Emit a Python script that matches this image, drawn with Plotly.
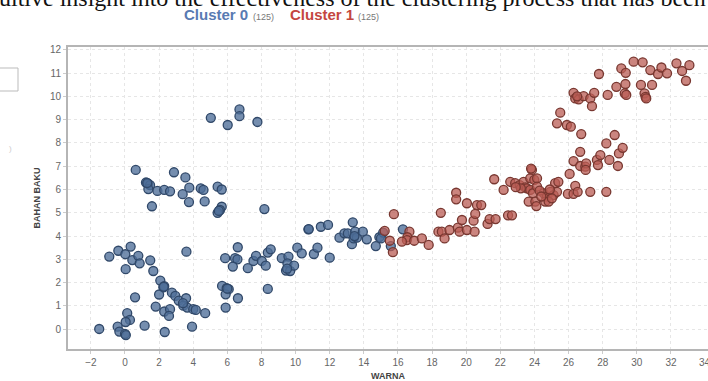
import plotly.graph_objects as go

# ---- data ----
cluster0_x = [0.63, 2.87, 3.54, 1.23, 1.35, 1.47, 1.37, 1.9, 2.3, 2.64, 3.38, 3.77, 4.44, 4.6, 3.75, 4.67, 1.58,
              0.33, -0.39, -0.92, 0.02, 0.43, 0.78, 0.86, 1.48, 3.6, 0.04, 1.66, 2.07, 2.25, 2.3, 2.0, 2.75, 2.95,
              3.15, 3.58, 3.42, 3.65, 4.0, 4.15, 4.7, 0.59, 1.8, 2.3, 2.64, 2.58, 0.13, 0.29, 0.04, -1.51, -0.43,
              -0.33, 0.0, 0.05, 1.15, 2.33, 3.93, 3.4,
              5.03, 6.71, 6.71, 6.02, 7.76, 5.43, 5.67, 5.67, 5.57, 5.43, 8.17, 10.75,
              5.9, 5.69, 5.96, 6.08, 5.9, 6.62, 8.37, 5.87, 6.45, 6.59, 6.32, 6.61, 7.2, 7.53, 7.68, 8.02, 8.25,
              8.37, 8.54, 9.19, 9.58, 9.52, 9.44, 9.68, 9.91, 10.1, 10.36, 11.07, 11.28, 12.0, 11.48, 11.9, 12.57,
              12.86, 13.06, 13.35, 13.3, 13.49, 13.4, 13.59, 13.94, 14.17, 14.7, 14.91, 15.13, 15.58, 16.29, 15.0,
              1.3, 5.5, 9.5, 2.27, 6.0, 13.45, 10.77]
cluster0_y = [6.84, 6.74, 6.52, 6.3, 6.25, 6.19, 6.02, 5.94, 5.98, 5.92, 5.8, 6.08, 6.05, 5.98, 5.46, 5.49, 5.28,
              3.55, 3.37, 3.12, 3.22, 2.97, 3.15, 2.83, 2.96, 3.33, 2.58, 2.5, 2.09, 1.8, 1.85, 1.49, 1.57, 1.43,
              1.23, 1.33, 1.01, 0.93, 0.86, 0.83, 0.69, 1.37, 0.97, 0.76, 0.86, 0.57, 0.69, 0.4, 0.31, 0.01, 0.11,
              -0.1, -0.2, -0.25, 0.15, -0.12, 0.11, 1.12,
              9.08, 9.44, 9.15, 8.77, 8.9, 6.12, 6.0, 5.26, 5.12, 5.0, 5.16, 4.29,
              0.93, 1.86, 1.76, 1.72, 1.5, 1.33, 1.73, 3.05, 3.05, 3.0, 2.69, 3.52, 2.62, 2.93, 3.15, 2.93, 2.73,
              3.29, 3.43, 3.05, 3.12, 2.83, 2.52, 2.5, 2.73, 3.5, 3.26, 3.23, 3.5, 3.07, 4.4, 4.48, 3.93,
              4.12, 4.12, 4.59, 3.65, 4.19, 3.9, 3.93, 4.19, 3.86, 3.57, 3.95, 4.15, 3.57, 4.29, 3.9,
              6.28, 5.08, 2.6, 1.82, 1.74, 4.0, 4.3]

cluster1_x = [15.22, 15.52, 15.7, 15.76, 16.67, 16.55, 16.52, 16.23, 16.95, 17.4, 17.8, 18.51, 18.37, 18.57, 18.73,
              19.02, 19.41, 19.41, 19.51, 19.75, 19.61, 20.04, 20.04, 20.49, 20.43, 20.53, 20.63, 20.88, 21.25,
              21.37, 21.72, 22.45, 22.68, 21.64, 22.19, 22.58, 22.87, 23.13, 23.36, 23.46, 23.85, 23.8, 23.75,
              23.99, 24.15, 23.56, 23.75, 23.91, 24.15, 23.66, 24.05, 24.11, 24.53, 24.73, 24.93, 25.12, 25.32,
              24.63, 24.83, 25.02, 25.21, 25.4,
              25.96, 26.29, 26.39, 26.53, 26.06, 26.29, 26.68, 26.98, 27.03, 26.68, 27.27, 27.66, 27.72, 27.86,
              28.21, 28.21, 28.7, 28.39, 28.89, 28.95, 29.17, 27.0,
              25.32, 25.51, 25.9, 26.13, 26.74, 26.29, 26.39, 26.59, 26.88, 27.27, 27.5, 27.37, 27.78, 28.29, 28.8,
              29.09, 29.35, 29.33, 29.29, 29.38, 29.81, 30.34, 30.24, 30.45, 30.51, 30.55, 30.89, 30.79, 31.24,
              31.44, 31.77, 32.32, 32.65, 33.08, 32.88,
              24.3, 24.4, 23.2, 24.9, 26.5, 22.9]
cluster1_y = [4.22, 3.8, 3.31, 4.94, 4.19, 3.95, 3.83, 3.76, 3.8, 3.9, 3.62, 5.0, 4.19, 4.19, 3.9,
              4.26, 5.86, 5.58, 4.36, 4.69, 4.19, 4.26, 5.41, 4.19, 4.66, 4.95, 5.33, 5.33, 4.52,
              4.73, 4.73, 4.89, 4.89, 6.44, 5.98, 6.33, 6.27, 6.19, 6.33, 6.09, 6.84, 6.9, 6.48,
              6.41, 6.48, 6.05, 5.98, 5.84, 6.12, 5.48, 5.48, 5.29, 5.84, 5.69, 5.9, 5.76, 5.9,
              5.48, 5.48, 5.62, 6.27, 6.33,
              5.81, 5.81, 6.16, 5.9, 6.67, 7.22, 7.01, 6.98, 7.12, 7.62, 5.9, 7.27, 7.05, 7.48,
              5.9, 7.98, 8.34, 7.27, 7.01, 7.55, 7.79, 6.84,
              8.84, 9.3, 8.77, 8.7, 8.38, 10.15, 9.91, 9.87, 10.01, 9.91, 10.15, 9.58, 10.96, 10.06, 10.41,
              11.2, 11.01, 10.53, 10.13, 10.06, 11.49, 11.46, 10.49, 10.13, 9.98, 9.91, 10.49, 11.13, 10.96,
              11.24, 10.99, 11.42, 11.09, 11.34, 10.67,
              5.95, 5.7, 6.05, 6.0, 10.0, 6.1]

series_names = ["Cluster 0", "Cluster 1"]
series_counts = ["(125)", "(125)"]
x_ticks = list(range(-2, 33, 2))
x_last_tick = 34
y_ticks = list(range(0, 13))

W, H = 708, 381
ML, MT, MB, MR = 68, 47, 32, 0
PW = W - ML - MR
PH = H - MT - MB


def px_x(p):
    return (p - ML) / PW


def px_y(p):
    return (H - MB - p) / PH


fig = go.Figure()
fig.add_trace(go.Scatter(
    x=cluster0_x, y=cluster0_y, mode="markers", name=series_names[0],
    marker=dict(size=9, color="rgba(78,110,152,0.78)", line=dict(color="rgb(48,72,105)", width=1.3)),
))
fig.add_trace(go.Scatter(
    x=cluster1_x, y=cluster1_y, mode="markers", name=series_names[1],
    marker=dict(size=9, color="rgba(185,92,84,0.75)", line=dict(color="rgb(120,55,48)", width=1.3)),
))

annotations = [
    dict(xref="paper", yref="paper", x=px_x(-3), y=px_y(-2), xanchor="left", yanchor="middle",
         showarrow=False,
         text="uitive insight into the effectiveness of the clustering process that has been",
         font=dict(family="Liberation Serif", size=24, color="#111")),
    dict(xref="paper", yref="paper", x=px_x(182), y=px_y(15), xanchor="left", yanchor="middle",
         showarrow=False, text=f"<b>{series_names[0]}</b>",
         font=dict(family="Liberation Sans", size=15, color="rgb(88,122,178)")),
    dict(xref="paper", yref="paper", x=px_x(251), y=px_y(17), xanchor="left", yanchor="middle",
         showarrow=False, text=series_counts[0],
         font=dict(family="Liberation Sans", size=9, color="#777")),
    dict(xref="paper", yref="paper", x=px_x(288), y=px_y(15), xanchor="left", yanchor="middle",
         showarrow=False, text=f"<b>{series_names[1]}</b>",
         font=dict(family="Liberation Sans", size=15, color="rgb(196,70,64)")),
    dict(xref="paper", yref="paper", x=px_x(356), y=px_y(17), xanchor="left", yanchor="middle",
         showarrow=False, text=series_counts[1],
         font=dict(family="Liberation Sans", size=9, color="#777")),
    dict(xref="paper", yref="paper", x=px_x(10), y=px_y(148), xanchor="center", yanchor="middle",
         showarrow=False, text=")", font=dict(family="Liberation Sans", size=8, color="#ccc")),
    dict(xref="x", yref="paper", x=x_last_tick, y=px_y(362), xanchor="center", yanchor="middle",
         showarrow=False, text=str(x_last_tick), font=dict(family="Liberation Sans", size=10, color="#666")),
]

fig.update_layout(
    width=W, height=H,
    margin=dict(l=ML, r=MR, t=MT, b=MB),
    paper_bgcolor="white", plot_bgcolor="white",
    showlegend=False,
    font=dict(family="Liberation Sans", color="#555"),
    annotations=annotations,
    shapes=[
        dict(type="rect", xref="paper", yref="paper",
             x0=px_x(-6), x1=px_x(18), y0=px_y(91), y1=px_y(68),
             line=dict(color="#bbb", width=1)),
    ],
)
fig.update_xaxes(
    range=[-3.34, 34.17], tickvals=x_ticks, ticks="outside", ticklen=3, tickcolor="#ccc",
    showgrid=True, gridcolor="#e6e6e6", griddash="dot", zeroline=False,
    showline=True, linecolor="#b5b5b5", linewidth=2, mirror=True, automargin=False,
    tickfont=dict(size=10, color="#666"),
    title=dict(text="<b>WARNA</b>", font=dict(size=9, color="#444"), standoff=10),
)
fig.update_yaxes(
    range=[-0.85, 12.12], tickvals=y_ticks, ticks="outside", ticklen=3, tickcolor="#ccc",
    showgrid=True, gridcolor="#e6e6e6", griddash="dot", zeroline=False,
    showline=True, linecolor="#b5b5b5", linewidth=2, mirror=False, automargin=False,
    tickfont=dict(size=10, color="#666"),
    title=dict(text="<b>BAHAN BAKU</b>", font=dict(size=9, color="#444"), standoff=8),
)

fig.write_html("out.html", config={"displayModeBar": False},
               post_script="document.body.style.margin='0px';")
